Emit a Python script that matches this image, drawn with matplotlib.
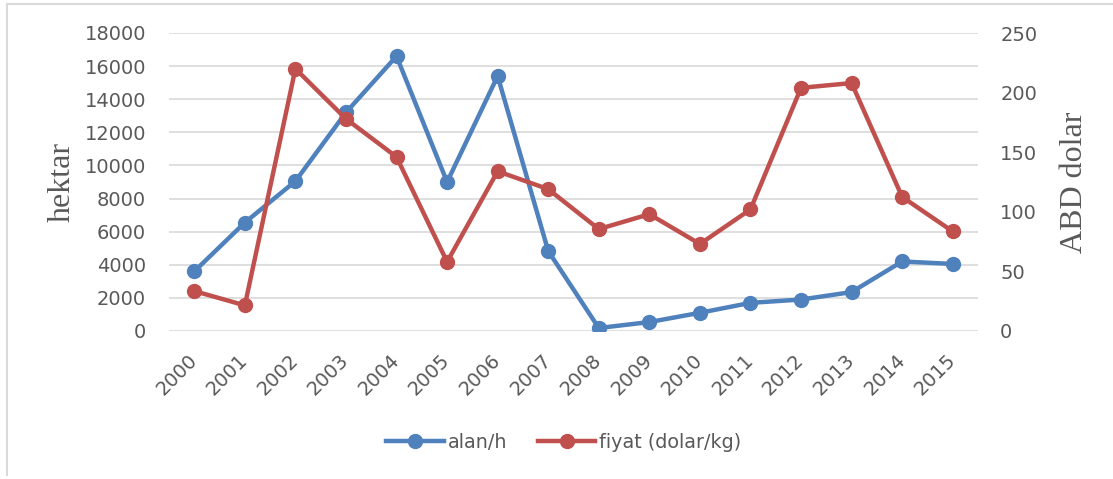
import matplotlib
matplotlib.use("Agg")
import matplotlib.pyplot as plt
from matplotlib.lines import Line2D

years = [str(y) for y in range(2000, 2016)]
alan = [3600, 6550, 9050, 13200, 16600, 9000, 15400, 4830,
        180, 540, 1100, 1700, 1900, 2350, 4200, 4050]
fiyat = [33.5, 21.5, 220, 178, 146, 58, 134, 119,
         85.5, 98, 73, 102, 204, 208, 112.5, 83.5]

BLUE = "#4F81BD"
RED = "#C0504D"
TXT = "#595959"
GRID = "#D9D9D9"

fig = plt.figure(figsize=(11.13, 4.79), dpi=100)
ax = fig.add_axes([169 / 1113, 1 - 331 / 479, (978 - 169) / 1113, 298 / 479])
ax2 = ax.twinx()

x = list(range(len(years)))
ax.plot(x, alan, color=BLUE, lw=3.2, marker="o", ms=10, zorder=3)
ax2.plot(x, fiyat, color=RED, lw=3.2, marker="o", ms=10, zorder=3)

ax.set_xlim(-0.5, len(years) - 0.5)
ax.set_ylim(0, 18000)
ax2.set_ylim(0, 250)
ax.set_yticks(range(0, 18001, 2000))
ax2.set_yticks(range(0, 251, 50))
ax.set_xticks(x)
ax.set_xticklabels(years, rotation=45, ha="right", va="center",
                   rotation_mode="anchor")

ax.grid(axis="y", color=GRID, lw=1.2)
ax.set_axisbelow(True)
for a in (ax, ax2):
    for s in a.spines.values():
        s.set_visible(False)
    a.tick_params(length=0, colors=TXT, labelsize=14)
ax.tick_params(axis="y", pad=16.5)
ax.tick_params(axis="x", pad=19)
ax2.tick_params(axis="y", pad=16)

ax.set_ylabel("hektar", family="Liberation Serif", fontsize=23, color=TXT, labelpad=6)
ax2.set_ylabel("ABD dolar", family="Liberation Serif", fontsize=23, color=TXT, labelpad=16)

handles = [Line2D([], [], color=BLUE, lw=3.2, marker="o", ms=10),
           Line2D([], [], color=RED, lw=3.2, marker="o", ms=10)]
fig.legend(handles, ["alan/h", "fiyat (dolar/kg)"], loc="center",
           bbox_to_anchor=(564 / 1113, 1 - 442 / 479), ncol=2, frameon=False,
           fontsize=13.8, labelcolor=TXT, handlelength=3.0, handletextpad=0.2,
           columnspacing=1.6)

# light frame like the chart area border
fig.add_artist(Line2D([7 / 1113, 1], [1 - 4 / 479] * 2, color=GRID, lw=1.5,
                      transform=fig.transFigure))
fig.add_artist(Line2D([7 / 1113] * 2, [1 - 4 / 479, 1 - 475 / 479], color=GRID,
                      lw=1.5, transform=fig.transFigure))

fig.savefig("out.png", dpi=100)
